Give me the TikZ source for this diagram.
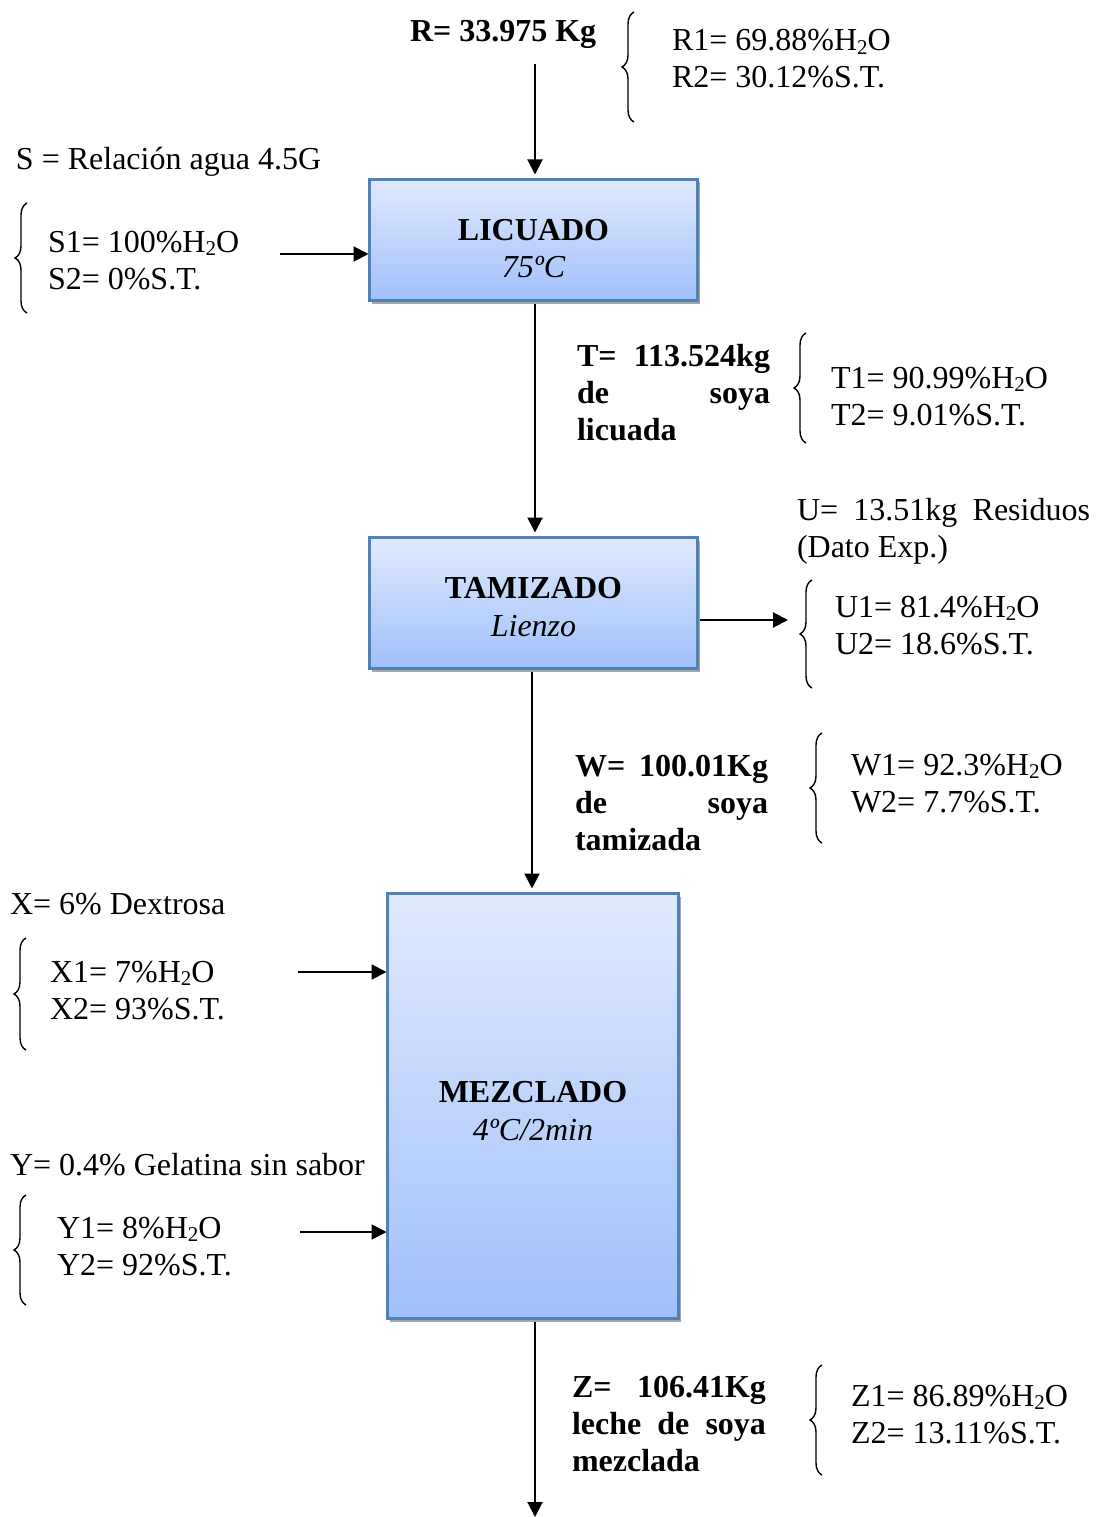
\documentclass[tikz,border=0pt]{standalone}
\usepackage{fontspec}
\setmainfont{Liberation Serif}
\usetikzlibrary{arrows.meta,shadows,decorations.pathreplacing}
\definecolor{boxblue}{RGB}{79,129,189}
\definecolor{boxtop}{RGB}{224,234,254}
\definecolor{boxbot}{RGB}{160,192,250}
\newcommand{\mysubtwo}{\raisebox{-0.12em}{\fontsize{21}{21}\selectfont 2}}
\begin{document}
\begin{tikzpicture}[x=1pt,y=-1pt,
  every node/.style={font=\fontsize{32}{37}\selectfont, inner sep=0pt, outer sep=0pt},
  txt/.style={anchor=base west},
  ctxt/.style={anchor=base},
  bold/.style={font=\fontsize{32}{37}\selectfont\bfseries},
  ital/.style={font=\fontsize{32}{37}\selectfont\itshape},
  procbox/.style={draw=boxblue, line width=3pt, top color=boxtop, bottom color=boxbot,
    drop shadow={shadow xshift=2pt,shadow yshift=-3pt,opacity=0.35,fill=black}},
  flow/.style={line width=2pt, -{Triangle[length=15pt,width=15pt]}},
  brc/.style={decorate, decoration={brace, amplitude=12pt}, line width=1.4pt},
]
\useasboundingbox (0,0) rectangle (1095,1517);

% process boxes
\node[procbox, minimum width=328pt, minimum height=121pt] (lic) at (533.5,240) {};
\node[procbox, minimum width=328pt, minimum height=131pt] (tam) at (533.5,603) {};
\node[procbox, minimum width=291pt, minimum height=425pt] (mez) at (533,1106) {};

\node[ctxt, bold] (licA) at (533.5,240) {LICUADO};
\node[ctxt, ital] (licB) at (533.5,277) {75ºC};
\node[ctxt, bold] (tamA) at (533.5,598) {TAMIZADO};
\node[ctxt, ital] (tamB) at (533.5,636) {Lienzo};
\node[ctxt, bold] (mezA) at (533,1102) {MEZCLADO};
\node[ctxt, ital] (mezB) at (533,1140) {4ºC/2min};

% R stream
\node[txt, bold] (rlab) at (410,42) {R= 33.975 Kg};
\coordinate (rstart) at (535,64);
\draw[flow, shorten >=5pt] (rstart) -- (rstart |- lic.north);
\draw[brc] (634,122) -- (634,12);
\node[txt] (r1) at (672,51) {R1= 69.88\%H\mysubtwo O};
\node[txt] (r2) at (672,88) {R2= 30.12\%S.T.};

% S stream
\node[txt] (slab) at (16,170) {S = Relación agua 4.5G};
\draw[brc] (27,313) -- (27,203);
\node[txt] (s1) at (48,252) {S1= 100\%H\mysubtwo O};
\node[txt] (s2) at (48,289) {S2= 0\%S.T.};
\coordinate (sstart) at (280,254);
\draw[flow, shorten >=1pt] (sstart) -- (sstart -| lic.west);

% T stream
\coordinate (tstart) at (535,304);
\draw[flow, shorten >=5pt] (tstart) -- (tstart |- tam.north);
\node[txt, bold] (t1a) at (577,366) {\makebox[193pt][l]{T=\hfill 113.524kg}};
\node[txt, bold] (t1b) at (577,403) {\makebox[193pt][l]{de\hfill soya}};
\node[txt, bold] (t1c) at (577,440) {licuada};
\draw[brc] (806,443) -- (806,333);
\node[txt] (t1) at (831,388) {T1= 90.99\%H\mysubtwo O};
\node[txt] (t2) at (831,425) {T2= 9.01\%S.T.};

% U stream
\node[txt] (ulab) at (797,520) {\makebox[293pt][l]{U=\hfill 13.51kg\hfill Residuos}};
\node[txt] (ulab2) at (797,557) {(Dato Exp.)};
\coordinate (uend) at (788,620);
\draw[flow, shorten <=2pt] (tam.east |- uend) -- (uend);
\draw[brc] (812,688) -- (812,580);
\node[txt] (u1) at (835,617) {U1= 81.4\%H\mysubtwo O};
\node[txt] (u2) at (835,654) {U2= 18.6\%S.T.};

% W stream
\coordinate (wstart) at (532,672);
\draw[flow, shorten >=5pt] (wstart) -- (wstart |- mez.north);
\node[txt, bold] (w1a) at (575,776) {\makebox[193pt][l]{W=\hfill 100.01Kg}};
\node[txt, bold] (w1b) at (575,813) {\makebox[193pt][l]{de\hfill soya}};
\node[txt, bold] (w1c) at (575,850) {tamizada};
\draw[brc] (822,843) -- (822,733);
\node[txt] (w1) at (851,775) {W1= 92.3\%H\mysubtwo O};
\node[txt] (w2) at (851,812) {W2= 7.7\%S.T.};

% X stream
\node[txt] (xlab) at (10,914) {X= 6\% Dextrosa};
\draw[brc] (26,1050) -- (26,938);
\node[txt] (x1) at (50,982) {X1= 7\%H\mysubtwo O};
\node[txt] (x2) at (50,1019) {X2= 93\%S.T.};
\coordinate (xstart) at (298,972);
\draw[flow, shorten >=1pt] (xstart) -- (xstart -| mez.west);

% Y stream
\node[txt] (ylab) at (10,1175) {Y= 0.4\% Gelatina sin sabor};
\draw[brc] (26,1305) -- (26,1195);
\node[txt] (y1) at (57,1238) {Y1= 8\%H\mysubtwo O};
\node[txt] (y2) at (57,1275) {Y2= 92\%S.T.};
\coordinate (ystart) at (300,1232);
\draw[flow, shorten >=1pt] (ystart) -- (ystart -| mez.west);

% Z stream
\coordinate (zstart) at (535,1322);
\coordinate (zend) at (535,1517);
\draw[flow] (zstart) -- (zend);
\node[txt, bold] (z1a) at (572,1397) {\makebox[194pt][l]{Z=\hfill 106.41Kg}};
\node[txt, bold] (z1b) at (572,1434) {\makebox[194pt][l]{leche\hfill de\hfill soya}};
\node[txt, bold] (z1c) at (572,1471) {mezclada};
\draw[brc] (822,1475) -- (822,1365);
\node[txt] (z1) at (851,1406) {Z1= 86.89\%H\mysubtwo O};
\node[txt] (z2) at (851,1443) {Z2= 13.11\%S.T.};
\end{tikzpicture}
\end{document}
